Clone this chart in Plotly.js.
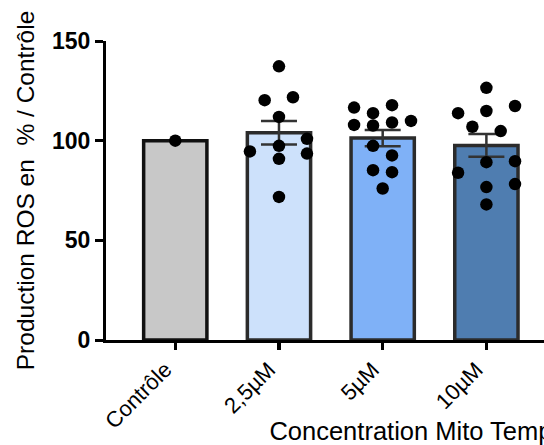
<!DOCTYPE html>
<html>
<head>
<meta charset="utf-8">
<script src="https://cdn.plot.ly/plotly-3.0.1.min.js"></script>
<style>
  html, body { margin: 0; padding: 0; overflow: hidden; background: #fff; }
  #chart { width: 750px; height: 445px; }
</style>
</head>
<body>
<div id="chart"></div>
<script>
// ---- Data ----
const categories = ["Contrôle", "2,5µM", "5µM", "10µM"];
const meanValues = [100, 104.0, 101.3, 97.6];
const semValues  = [0, 5.9, 4.1, 5.7];

const pointsControle = [100];
const points2_5 = [137.3, 120.3, 121.8, 111.9, 100.9, 94.6, 97.4, 93.5, 90.9, 71.8];
const points5   = [116.6, 117.8, 113.8, 107.9, 107.6, 109.1, 109.9, 97.4, 92.6, 85.2, 84.2, 76.0];
const points10  = [126.5, 113.8, 114.9, 117.4, 107.0, 104.8, 89.2, 89.7, 83.9, 78.2, 76.7, 68.0];

const yTickVals = [0, 50, 100, 150];
const yTitle = "Production ROS en  % / Contrôle";
const xTitle = "Concentration Mito Tempo";

// ---- Styling / layout (scatter offsets are swarm layout, in category units) ----
const jitterControle = [0];
const jitter2_5 = [0, -0.138, 0.135, 0, 0.27, -0.28, 0, 0.27, 0, 0];
const jitter5   = [-0.276, 0.09, -0.093, -0.276, -0.093, 0.09, 0.273, -0.093, 0.09, -0.093, 0.09, 0];
const jitter10  = [0, -0.273, 0, 0.276, -0.135, 0.138, 0, 0.276, -0.273, 0.276, 0, 0];

const barColors = ["#c8c8c8", "#cde1fb", "#7fb1f7", "#4f7db0"];
const barLineColors = ["#111111", "#2b2b2b", "#2b2b2b", "#2b2b2b"];
const FONT = "Liberation Sans, Arial, Helvetica, sans-serif";

const catIdx = categories.map((_, i) => i);

const barTrace = {
  type: "bar",
  x: catIdx,
  y: meanValues,
  width: 0.61,
  marker: {
    color: barColors,
    line: { color: barLineColors, width: 3.5 }
  },
  error_y: {
    type: "data",
    array: semValues.map(v => v > 0 ? v : NaN),
    visible: true,
    color: "#333333",
    thickness: 2.5,
    width: 18
  },
  hoverinfo: "skip",
  showlegend: false
};

const groups = [
  [pointsControle, jitterControle],
  [points2_5, jitter2_5],
  [points5, jitter5],
  [points10, jitter10]
];
const px = [], py = [];
groups.forEach((g, i) => {
  g[0].forEach((v, k) => { px.push(i + g[1][k]); py.push(v); });
});

const dotTrace = {
  type: "scatter",
  mode: "markers",
  x: px,
  y: py,
  marker: { color: "#000000", size: 12.5, line: { width: 0 } },
  hoverinfo: "skip",
  showlegend: false
};

const layout = {
  width: 750,
  height: 445,
  margin: { l: 106, r: 20, t: 41, b: 105 },
  paper_bgcolor: "#ffffff",
  plot_bgcolor: "#ffffff",
  font: { family: FONT, color: "#000000", size: 23 },
  showlegend: false,
  xaxis: {
    range: [-0.668, 5.349],
    tickvals: catIdx,
    ticktext: categories,
    tickangle: -45,
    tickfont: { family: FONT, size: 22, color: "#000000" },
    ticklabelshift: -10,
    ticklabelstandoff: -2,
    ticks: "outside",
    ticklen: 7,
    tickwidth: 3.5,
    tickcolor: "#000000",
    showline: true,
    linewidth: 3,
    linecolor: "#000000",
    showgrid: false,
    zeroline: false,
    title: { text: xTitle, font: { family: FONT, size: 25.5, color: "#000000" }, standoff: 8 }
  },
  yaxis: {
    range: [0, 150],
    tickvals: yTickVals,
    ticktext: yTickVals.map(String),
    tickfont: { family: FONT, size: 23, color: "#000000", weight: "bold" },
    ticks: "outside",
    ticklen: 8,
    tickwidth: 3,
    tickcolor: "#000000",
    showline: true,
    linewidth: 3,
    linecolor: "#000000",
    showgrid: false,
    zeroline: false,
    title: { text: yTitle, font: { family: FONT, size: 24.5, color: "#000000" }, standoff: 11 }
  }
};

Plotly.newPlot("chart", [barTrace, dotTrace], layout, { displayModeBar: false, staticPlot: true });
</script>
</body>
</html>
